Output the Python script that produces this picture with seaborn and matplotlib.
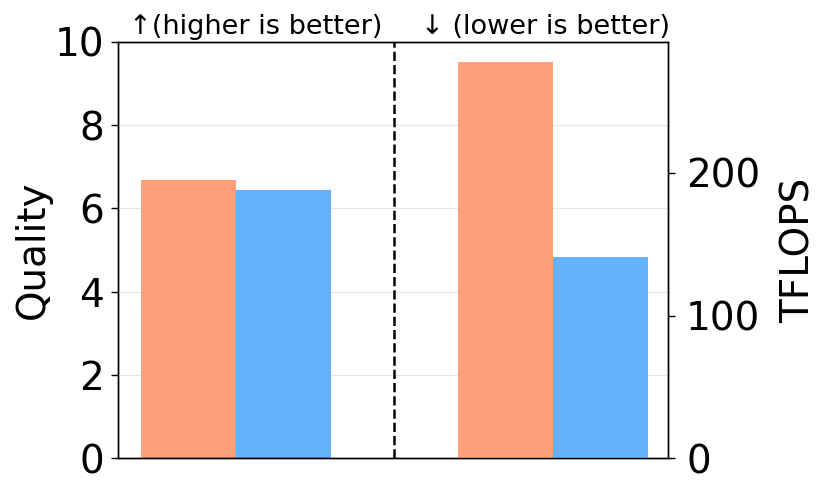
import pandas as pd
import matplotlib
matplotlib.use("Agg")
import matplotlib.pyplot as plt
import seaborn as sns
import numpy as np

# data
metrics = ["Quality", "TFLOPS"]
methods = ["Baseline", "Ours"]
quality_vals = [6.68, 6.44]
tflops_vals = [278, 141]
colors = ["#FFA07A", "#66B2FF"]

sns.set_style("white")
plt.rcParams['font.family'] = ['DejaVu Sans']
plt.rcParams['text.color'] = 'black'
plt.rcParams['axes.labelcolor'] = 'black'
plt.rcParams['xtick.color'] = 'black'
plt.rcParams['ytick.color'] = 'black'

df_q = pd.DataFrame({"metric": ["Quality"] * 2 + ["TFLOPS"] * 2,
                     "method": methods * 2,
                     "value": quality_vals + [np.nan, np.nan]})
df_t = pd.DataFrame({"metric": ["Quality"] * 2 + ["TFLOPS"] * 2,
                     "method": methods * 2,
                     "value": [np.nan, np.nan] + tflops_vals})

fig = plt.figure(figsize=(8.31, 4.92), dpi=100)
ax1 = fig.add_axes([0.142, 0.069, 0.662, 0.846])
ax2 = ax1.twinx()

sns.barplot(data=df_q, x="metric", y="value", hue="method", order=metrics,
            hue_order=methods, palette=colors, width=0.6, errorbar=None,
            saturation=1, linewidth=0, legend=False, ax=ax1)
sns.barplot(data=df_t, x="metric", y="value", hue="method", order=metrics,
            hue_order=methods, palette=colors, width=0.6, errorbar=None,
            saturation=1, linewidth=0, legend=False, ax=ax2)

ax1.set_xlim(-0.372, 1.363)
ax1.set_ylim(0, 10)
ax2.set_ylim(0, 292)
ax1.set_xticks([])
ax1.set_xlabel("")
ax2.set_xlabel("")
ax1.set_yticks([0, 2, 4, 6, 8, 10])
ax2.set_yticks([0, 100, 200])
ax1.set_ylabel("Quality", fontsize=28, labelpad=2)
ax2.set_ylabel("TFLOPS", fontsize=28, labelpad=14)
ax1.tick_params(axis='y', labelsize=28, length=5, width=1, pad=5, left=True)
ax2.tick_params(axis='y', labelsize=28, length=5, width=1, pad=8, right=True)

ax1.yaxis.grid(True, color="#e6e6e6", linewidth=0.8)
ax1.set_axisbelow(True)
for ax in (ax1, ax2):
    for s in ax.spines.values():
        s.set_visible(True)
        s.set_color("black")
        s.set_linewidth(1.0)

ax1.axvline(0.5, color="black", linestyle="--", linewidth=1.8)

ax1.text(0.251, 1.005, "↑(higher is better)", transform=ax1.transAxes,
         ha="center", va="bottom", fontsize=19.5)
ax1.text(0.778, 1.005, "↓ (lower is better)", transform=ax1.transAxes,
         ha="center", va="bottom", fontsize=19.5)

plt.savefig("out.png", dpi=100, facecolor="white")
